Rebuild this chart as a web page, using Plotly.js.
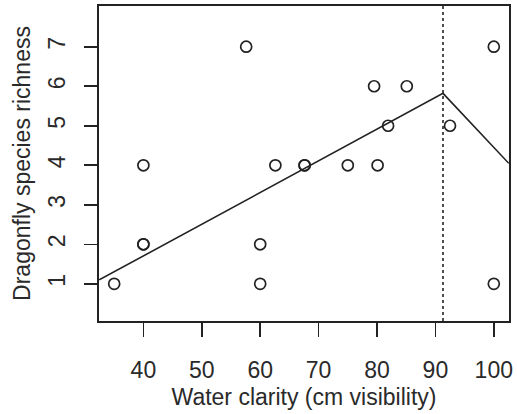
<!DOCTYPE html>
<html>
<head>
<meta charset="utf-8">
<script src="https://cdn.plot.ly/plotly-3.0.1.min.js"></script>
<style>html,body{margin:0;padding:0;background:#fff;}#chart{width:517px;height:414px;}</style>
</head>
<body>
<div id="chart"></div>
<script>
// Observed data
const clarity  = [35, 40, 40, 40, 57.6, 60, 60, 62.6, 67.6, 67.6, 75, 79.5, 80.1, 81.9, 85.1, 92.5, 100, 100];
const richness = [1,  4,  2,  2,  7,    2,  1,  4,    4,    4,    4,  6,    4,    5,    6,    5,    7,   1];

// Fitted broken-stick model
const fitX = [32.44, 91.3, 102.56];
const fitY = [1.1, 5.82, 4.05];

// Breakpoint
const breakX = [91.3, 91.3];
const breakY = [0.06, 8.03];

const xTicks = [40, 50, 60, 70, 80, 90, 100];
const yTicks = [1, 2, 3, 4, 5, 6, 7];

const ink = '#222222';
const font = {family: 'Liberation Sans, Arial, sans-serif', size: 23, color: '#2a2a2a'};

const traces = [
  {x: fitX, y: fitY, mode: 'lines', line: {color: ink, width: 1.6}, hoverinfo: 'skip'},
  {x: breakX, y: breakY, mode: 'lines', line: {color: ink, width: 1.6, dash: '3px,3px'}, hoverinfo: 'skip'},
  {x: clarity, y: richness, mode: 'markers',
   marker: {symbol: 'circle-open', size: 11, color: ink, line: {width: 1.7, color: ink}}}
];

const layout = {
  width: 517, height: 414,
  margin: {l: 99, r: 8, t: 6, b: 93},
  paper_bgcolor: '#fff', plot_bgcolor: '#fff',
  showlegend: false,
  font: font,
  xaxis: {
    range: [32.4, 102.6], tickvals: xTicks, ticktext: xTicks.map(String),
    showgrid: false, zeroline: false,
    showline: true, mirror: true, linecolor: ink, linewidth: 1.6,
    ticks: 'outside', ticklen: 14, tickwidth: 1.6, tickcolor: ink,
    tickfont: font, ticklabelstandoff: 14,
    title: {text: 'Water clarity (cm visibility)', font: font, standoff: 6}
  },
  yaxis: {
    range: [0.06, 8.03], tickvals: yTicks, ticktext: yTicks.map(String),
    tickangle: -90,
    showgrid: false, zeroline: false,
    showline: true, mirror: true, linecolor: ink, linewidth: 1.6,
    ticks: 'outside', ticklen: 13, tickwidth: 1.6, tickcolor: ink,
    tickfont: font, ticklabelstandoff: 10,
    title: {text: 'Dragonfly species richness', font: font, standoff: 7}
  }
};

Plotly.newPlot('chart', traces, layout, {displayModeBar: false, staticPlot: true});
</script>
</body>
</html>
